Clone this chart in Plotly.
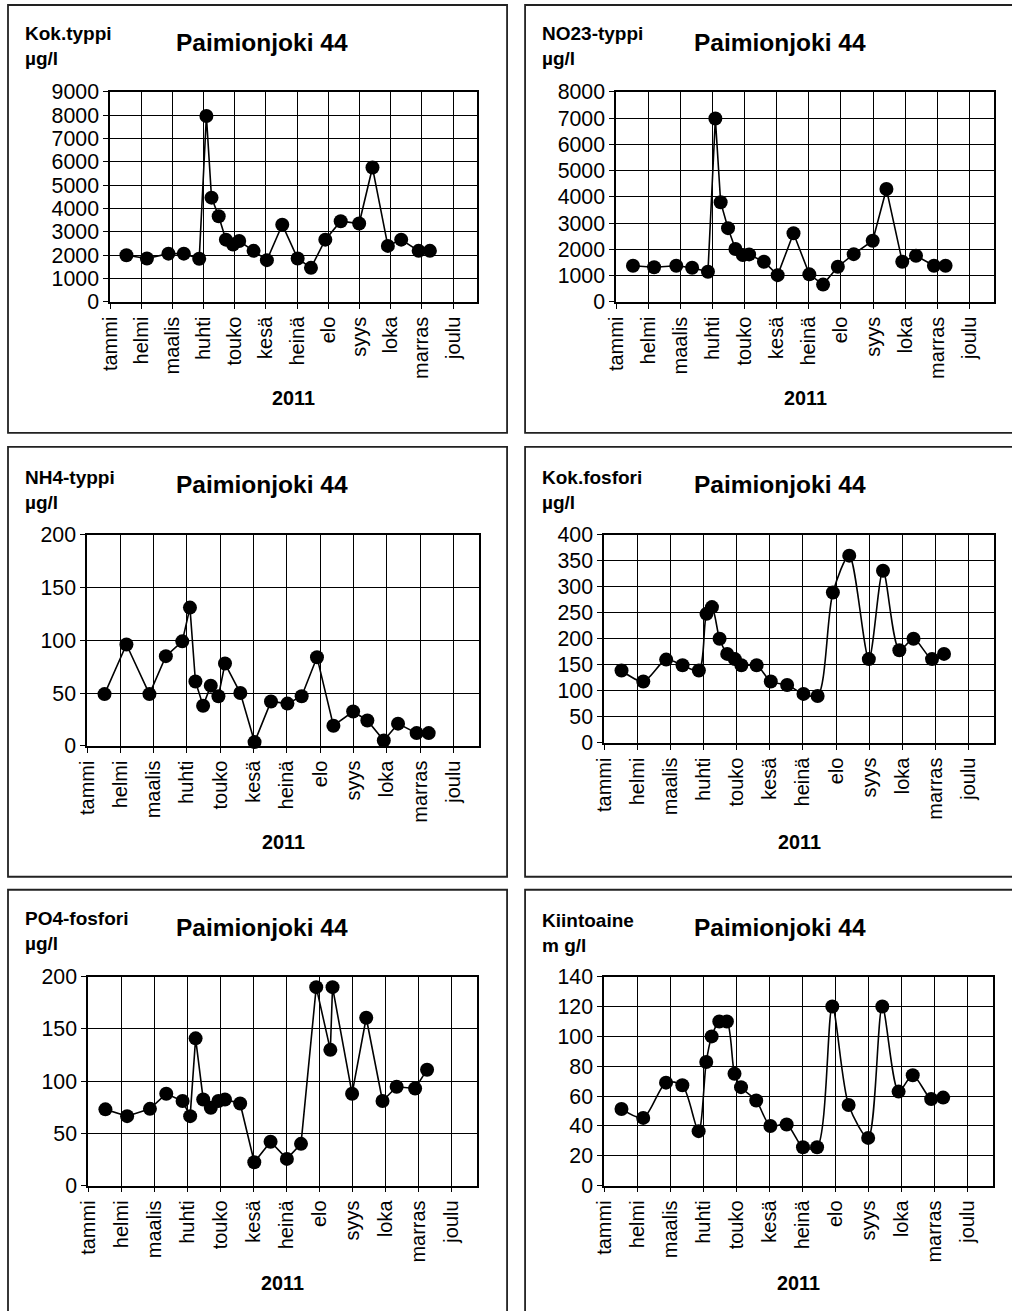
import pandas as pd
import plotly.graph_objects as go
from plotly.subplots import make_subplots

# ---------------- data ----------------
months = ["tammi", "helmi", "maalis", "huhti", "touko", "kesä",
          "heinä", "elo", "syys", "loka", "marras", "joulu"]

sample_dates = ["2011-01-17", "2011-02-06", "2011-02-27", "2011-03-14", "2011-03-29",
                "2011-04-05", "2011-04-10", "2011-04-17", "2011-04-24", "2011-05-01",
                "2011-05-07", "2011-05-21", "2011-06-03", "2011-06-18", "2011-07-03",
                "2011-07-16", "2011-07-30", "2011-08-14", "2011-09-01", "2011-09-14",
                "2011-09-29", "2011-10-12", "2011-10-29", "2011-11-09"]

po4_dates = ["2011-01-17", "2011-02-06", "2011-02-27", "2011-03-14", "2011-03-29",
             "2011-04-05", "2011-04-10", "2011-04-17", "2011-04-24", "2011-05-01",
             "2011-05-07", "2011-05-21", "2011-06-03", "2011-06-18", "2011-07-03",
             "2011-07-16", "2011-07-30", "2011-08-12", "2011-08-14", "2011-09-01",
             "2011-09-14", "2011-09-29", "2011-10-12", "2011-10-29", "2011-11-09"]

kok_typpi = [2000, 1860, 2070, 2070, 1850, 7970, 4470, 3670, 2670, 2460, 2610, 2190,
             1790, 3310, 1860, 1460, 2670, 3460, 3360, 5760, 2400, 2670, 2190, 2190]
no23_typpi = [1380, 1320, 1380, 1300, 1150, 6990, 3800, 2810, 2015, 1785, 1810, 1530,
              1020, 2615, 1050, 660, 1340, 1820, 2330, 4300, 1530, 1760, 1380, 1380]
nh4_typpi = [49, 96, 49, 85, 99, 131, 61, 38, 57, 47, 78, 50,
             3.5, 42, 40, 47, 84, 19, 32.5, 24, 5, 21, 12, 12]
kok_fosfori = [139, 118, 160, 149, 139, 248, 261, 200, 171, 161, 149, 149,
               118, 111, 94, 90, 289, 360, 161, 331, 178, 200, 161, 171]
po4_fosfori = [73, 66.5, 73.5, 88, 81, 66.5, 141, 82.5, 74.5, 81, 82.5, 78.6,
               22.4, 42, 25.6, 40, 190, 130, 190, 88, 160.7, 81, 94.6, 93, 111]
kiintoaine = [51.4, 45.4, 69, 67.3, 36.5, 82.8, 100, 110, 110, 75, 66, 57,
              40, 41, 25.7, 25.7, 120, 54, 32, 120, 63, 74, 58, 59]

panels = [
    # (unit line1, unit line2, dates, values, ymax, dtick, smooth)
    ("Kok.typpi", "µg/l", sample_dates, kok_typpi, 9000, 1000, False),
    ("NO23-typpi", "µg/l", sample_dates, no23_typpi, 8000, 1000, False),
    ("NH4-typpi", "µg/l", sample_dates, nh4_typpi, 200, 50, False),
    ("Kok.fosfori", "µg/l", sample_dates, kok_fosfori, 400, 50, True),
    ("PO4-fosfori", "µg/l", po4_dates, po4_fosfori, 200, 50, False),
    ("Kiintoaine", "m g/l", sample_dates, kiintoaine, 140, 20, True),
]
station = "Paimionjoki 44"
year_label = "2011"

# ---------------- layout geometry (target pixels) ----------------
W, H = 1012, 1311
plot_px = [  # x0, x1, y0(top), y1(bottom)
    (110, 477, 92, 302),
    (616, 994, 92, 302),
    (87, 479, 535, 746),
    (604, 994, 535, 743),
    (88, 477, 977, 1186),
    (604, 993, 977, 1186),
]
box_px = [
    (8, 507, 5, 433),
    (525, 1030, 5, 433),
    (8, 507, 447, 877),
    (525, 1030, 447, 877),
    (8, 507, 890, 1340),
    (525, 1030, 890, 1340),
]
unit_px = [(23, 33), (540, 33), (23, 477), (540, 477), (23, 918), (540, 920)]
title_px = [(262, 43), (780, 43), (262, 485), (780, 485), (262, 928), (780, 928)]
year_y_px = [398, 398, 842, 842, 1283, 1283]

# compensation for how the page ends up on the photograph
OFF, SX, SY = 12.0, 0.988, 0.982
FS = 1 / 0.985

def px(x):
    return ((x - OFF) / SX) / W

def py(y):
    return 1 - ((y - OFF) / SY) / H

FONT = "Liberation Sans, Arial, sans-serif"
month_len = 365 / 12
tickvals = [i * month_len for i in range(12)]
x_end = 358

fig = make_subplots(rows=3, cols=2)

start = pd.Timestamp("2011-01-01")
for i, (u1, u2, dates, vals, ymax, dt, smooth) in enumerate(panels):
    r, c = i // 2 + 1, i % 2 + 1
    days = [(pd.Timestamp(d) - start).days for d in dates]
    fig.add_trace(go.Scatter(
        x=days, y=vals, mode="lines+markers",
        line=dict(color="black", width=1.6,
                  shape="spline" if smooth else "linear", smoothing=0.8),
        marker=dict(color="black", size=14),
        cliponaxis=False, showlegend=False, hoverinfo="skip"),
        row=r, col=c)
    x0, x1, y0, y1 = plot_px[i]
    sfx = "" if i == 0 else str(i + 1)
    fig.layout["xaxis" + sfx].update(
        domain=[px(x0), px(x1)], range=[0, x_end],
        tickmode="array", tickvals=tickvals, ticktext=months, tickangle=-90,
        showgrid=True, gridcolor="black", gridwidth=1,
        showline=True, linecolor="black", linewidth=1.5, mirror=True,
        ticks="outside", ticklen=5, tickcolor="black",
        tickfont=dict(family=FONT, size=20, color="black"), zeroline=False)
    fig.layout["yaxis" + sfx].update(
        domain=[py(y1), py(y0)], range=[0, ymax], dtick=dt, tick0=0,
        showgrid=True, gridcolor="black", gridwidth=1,
        showline=True, linecolor="black", linewidth=1.5, mirror=True,
        ticks="outside", ticklen=5, tickcolor="black",
        tickfont=dict(family=FONT, size=21 * FS, color="black"), zeroline=False)

    bx0, bx1, by0, by1 = box_px[i]
    fig.add_shape(type="rect", xref="paper", yref="paper",
                  x0=px(bx0), x1=px(bx1), y0=py(by1), y1=py(by0),
                  line=dict(color="#222", width=1.8), layer="below")
    ux, uy = unit_px[i]
    fig.add_annotation(xref="paper", yref="paper", x=px(ux), y=py(uy - 12),
                       xanchor="left", yanchor="top", showarrow=False, align="left",
                       text=f"<b>{u1}</b><br><b>{u2}</b>",
                       font=dict(family=FONT, size=19, color="black"))
    tx, ty = title_px[i]
    fig.add_annotation(xref="paper", yref="paper", x=px(tx), y=py(ty),
                       xanchor="center", yanchor="middle", showarrow=False,
                       text=f"<b>{station}</b>",
                       font=dict(family=FONT, size=24.5, color="black"))
    fig.add_annotation(xref="paper", yref="paper", x=px((x0 + x1) / 2), y=py(year_y_px[i]),
                       xanchor="center", yanchor="middle", showarrow=False,
                       text=f"<b>{year_label}</b>",
                       font=dict(family=FONT, size=19.5 * FS, color="black"))

fig.update_layout(width=W, height=H, margin=dict(l=0, r=0, t=0, b=0),
                  paper_bgcolor="white", plot_bgcolor="white",
                  font=dict(family=FONT, color="black"))

fig.write_html(
    "out.html",
    config={"displayModeBar": False},
    post_script=(
        "document.documentElement.style.margin='0';"
        "document.body.style.margin='0';"
        "document.body.style.padding='0';"
        "document.body.style.overflow='hidden';"
    ),
)
